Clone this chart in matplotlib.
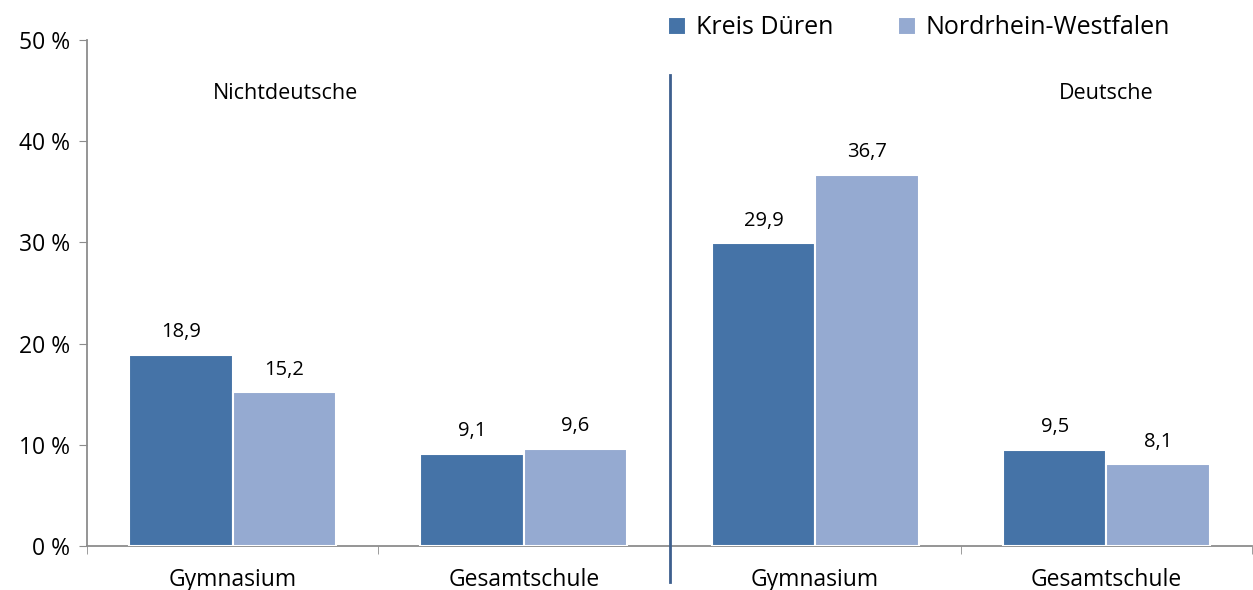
import numpy as np
import matplotlib.pyplot as plt
from matplotlib.ticker import FuncFormatter
from matplotlib.lines import Line2D

# chart data
categories = ['Gymnasium', 'Gesamtschule', 'Gymnasium', 'Gesamtschule']
kreis_dueren = [18.9, 9.1, 29.9, 9.5]
nrw = [15.2, 9.6, 36.7, 8.1]
series_names = ['Kreis Düren', 'Nordrhein-Westfalen']
group_names = ['Nichtdeutsche', 'Deutsche']

c_dark = '#4573a7'
c_light = '#95aad1'
grey = '#8c8c8c'

plt.rcParams['font.family'] = ['Open Sans', 'DejaVu Sans']

fig = plt.figure(figsize=(12.53, 5.9), dpi=100)
ax = fig.add_axes([87 / 1253, 44 / 590, (1252 - 87) / 1253, 506 / 590])

x = np.arange(len(categories))
w = 0.355
b1 = ax.bar(x - w / 2, kreis_dueren, w, color=c_dark, edgecolor='white', linewidth=1.5, zorder=3)
b2 = ax.bar(x + w / 2, nrw, w, color=c_light, edgecolor='white', linewidth=1.5, zorder=3)

# value labels
for bars, vals in [(b1, kreis_dueren), (b2, nrw)]:
    for rect, v in zip(bars, vals):
        ax.annotate(f'{v:.1f}'.replace('.', ','),
                    (rect.get_x() + rect.get_width() / 2, v),
                    xytext=(0, 9), textcoords='offset points',
                    ha='center', va='bottom', fontsize=14.5)

ax.set_xlim(-0.5, 3.5)
ax.set_ylim(0, 50)
ax.set_yticks([0, 10, 20, 30, 40, 50])
ax.yaxis.set_major_formatter(FuncFormatter(lambda v, p: f'{v:.0f} %'))
ax.tick_params(axis='y', length=6, color=grey, labelsize=16.5, pad=6)

ax.set_xticks(x)
ax.set_xticklabels(categories, fontsize=16.5)
ax.tick_params(axis='x', which='major', length=0, pad=16)
ax.set_xticks([-0.5, 0.5, 1.5, 2.5, 3.5], minor=True)
ax.tick_params(axis='x', which='minor', length=6, color=grey)

for s in ['top', 'right']:
    ax.spines[s].set_visible(False)
for s in ['left', 'bottom']:
    ax.spines[s].set_color(grey)
    ax.spines[s].set_linewidth(1.3)

# divider between the two groups
ax.add_line(Line2D([1.5, 1.5], [-0.071, 0.931], transform=ax.get_xaxis_transform(),
                   color='#3d5f8e', linewidth=2, clip_on=False, zorder=4))

ax.text(0.18, 0.895, group_names[0], transform=ax.get_xaxis_transform(),
        ha='center', va='center', fontsize=15.5)
ax.text(3.0, 0.895, group_names[1], transform=ax.get_xaxis_transform(),
        ha='center', va='center', fontsize=15.5)

fig.legend([b1, b2], series_names, loc='center right', bbox_to_anchor=(1170 / 1253, 1 - 28 / 590),
           ncol=2, frameon=False, fontsize=18, handlelength=0.7, handleheight=0.7,
           handletextpad=0.4, columnspacing=2.6, borderaxespad=0, borderpad=0)

fig.savefig('out.png', dpi=100)
